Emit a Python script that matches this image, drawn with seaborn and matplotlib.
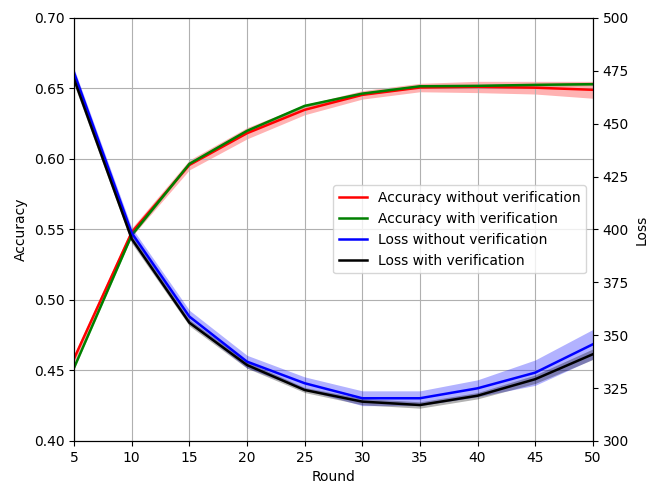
import numpy as np
import seaborn as sns
import matplotlib
matplotlib.use('Agg')
import matplotlib.pyplot as plt

# rounds on the x axis
rounds = [5, 10, 15, 20, 25, 30, 35, 40, 45, 50]

# accuracy (left axis), mean and spread
acc_without = [0.4585, 0.548, 0.5957, 0.6182, 0.6348, 0.6454, 0.6506, 0.6510, 0.6505, 0.6490]
acc_without_sd = [0.003, 0.003, 0.0035, 0.004, 0.0035, 0.003, 0.003, 0.004, 0.0045, 0.006]
acc_with = [0.4520, 0.546, 0.5965, 0.6199, 0.6376, 0.6463, 0.6515, 0.6518, 0.6525, 0.6530]
acc_with_sd = [0.001, 0.001, 0.001, 0.001, 0.001, 0.001, 0.001, 0.001, 0.001, 0.001]

# loss (right axis), mean and spread
loss_without = [474.0, 398.3, 358.8, 337.5, 327.3, 320.2, 320.2, 324.9, 332.3, 345.7]
loss_without_sd = [2.0, 2.5, 3.0, 3.0, 3.0, 3.5, 3.5, 4.0, 6.0, 7.0]
loss_with = [471.0, 395.5, 355.9, 335.9, 324.1, 318.6, 317.0, 321.4, 329.2, 341.0]
loss_with_sd = [2.5, 2.0, 1.5, 1.5, 1.2, 1.5, 1.5, 1.5, 2.0, 2.5]

fig, ax1 = plt.subplots(figsize=(6.5, 4.83), dpi=100)
ax2 = ax1.twinx()

sns.lineplot(x=rounds, y=acc_without, ax=ax1, color='red', linewidth=1.8,
             label='Accuracy without verification', legend=False)
ax1.fill_between(rounds, np.array(acc_without) - acc_without_sd,
                 np.array(acc_without) + acc_without_sd, color='red', alpha=0.3, linewidth=0)
sns.lineplot(x=rounds, y=acc_with, ax=ax1, color='green', linewidth=1.8,
             label='Accuracy with verification', legend=False)
ax1.fill_between(rounds, np.array(acc_with) - acc_with_sd,
                 np.array(acc_with) + acc_with_sd, color='green', alpha=0.3, linewidth=0)

sns.lineplot(x=rounds, y=loss_without, ax=ax2, color='blue', linewidth=1.8,
             label='Loss without verification', legend=False)
ax2.fill_between(rounds, np.array(loss_without) - loss_without_sd,
                 np.array(loss_without) + loss_without_sd, color='blue', alpha=0.3, linewidth=0)
sns.lineplot(x=rounds, y=loss_with, ax=ax2, color='black', linewidth=1.8,
             label='Loss with verification', legend=False)
ax2.fill_between(rounds, np.array(loss_with) - loss_with_sd,
                 np.array(loss_with) + loss_with_sd, color='black', alpha=0.3, linewidth=0)

ax1.set_xlim(5, 50)
ax1.set_xticks(rounds)
ax1.set_ylim(0.40, 0.70)
ax2.set_ylim(300, 500)
ax1.set_xlabel('Round')
ax1.set_ylabel('Accuracy')
ax2.set_ylabel('Loss')
ax1.grid(True)

h1, l1 = ax1.get_legend_handles_labels()
h2, l2 = ax2.get_legend_handles_labels()
ax2.legend(h1 + h2, l1 + l2, loc='center right')

fig.subplots_adjust(left=0.114, right=0.912, top=0.963, bottom=0.087)
fig.savefig('out.png')
